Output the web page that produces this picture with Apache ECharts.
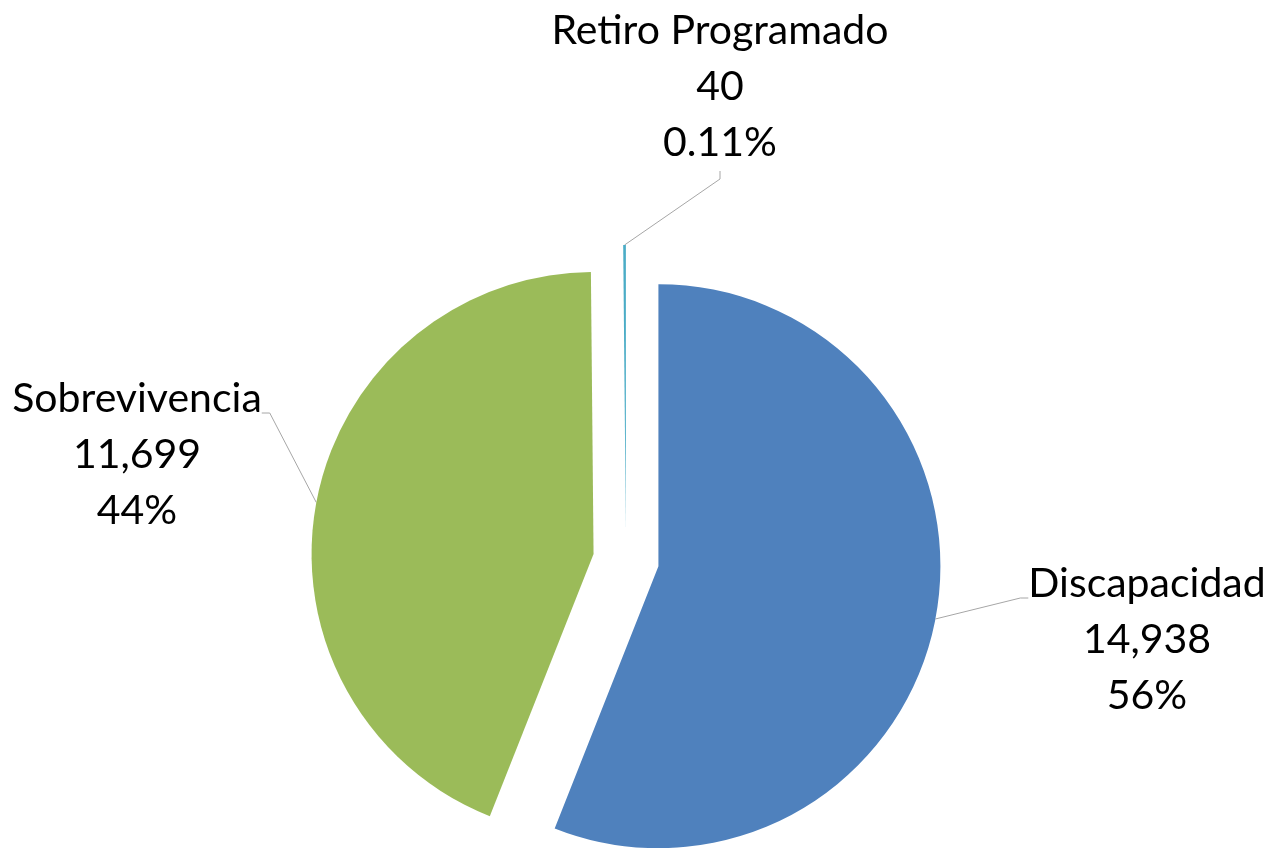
<!DOCTYPE html>
<html>
<head>
<meta charset="utf-8">
<script src="https://cdn.jsdelivr.net/npm/echarts@6/dist/echarts.min.js"></script>
<style>
  html, body { margin: 0; padding: 0; background: #fff; }
  #main { width: 1273px; height: 848px; }
</style>
</head>
<body>
<div id="main"></div>
<script>
// datos
const categories = ['Discapacidad', 'Sobrevivencia', 'Retiro Programado'];
const values = [14938, 11699, 40];
const pctLabels = ['56%', '44%', '0.11%'];
const colors = ['#4F81BD', '#9BBB59', '#4BACC6'];

// donde va cada etiqueta (centro del texto) y cuanto subir el punto de la linea guia
const labelPos = [
  { x: 1147, y: 640 },
  { x: 137, y: 455 },
  { x: 720, y: 87 }
];
const labelLift = [84, 84, 0];

const pieCenter = [626, 560];
const pieRadius = 282;
const explode = 33;

const chart = echarts.init(document.getElementById('main'));

// cada porcion va en su propia serie para poder separarla
// (con selected, el estado "select" pisa la posicion de la etiqueta)
const total = values.reduce(function (a, b) { return a + b; }, 0);
let acc = 0;
const series = values.map(function (v, k) {
  const mid = (acc + v / 2) / total * Math.PI * 2;
  acc += v;
  return {
    type: 'pie',
    silent: true,
    center: [pieCenter[0] + explode * Math.sin(mid), pieCenter[1] - explode * Math.cos(mid)],
    radius: pieRadius,
    startAngle: 90,
    clockwise: true,
    avoidLabelOverlap: false,
    emphasis: { disabled: true },
    label: {
      position: 'outside',
      color: '#000',
      fontFamily: 'Lato',
      fontSize: 41,
      lineHeight: 56,
      align: 'center',
      rich: {
        // linea vacia arriba: sube el punto donde llega la linea guia
        gap: { fontSize: 10, lineHeight: labelLift[k] || 1 }
      },
      formatter: function (p) {
        const i = p.dataIndex;
        const txt = p.name + '\n' + p.value.toLocaleString('en-US') + '\n' + pctLabels[i];
        return labelLift[i] > 0 ? '{gap| }\n' + txt : txt;
      }
    },
    labelLine: {
      length: 10,
      length2: 8,
      lineStyle: { color: '#A6A6A6', width: 1 }
    },
    labelLayout: function (params) {
      const i = params.dataIndex;
      const pos = labelPos[i];
      return { x: pos.x, y: pos.y - labelLift[i] / 2, align: 'center', verticalAlign: 'middle' };
    },
    data: categories.map(function (name, i) {
      const mine = i === k;
      return {
        name: name,
        value: values[i],
        itemStyle: { color: mine ? colors[i] : 'rgba(0,0,0,0)' },
        label: { show: mine },
        labelLine: { show: mine }
      };
    })
  };
});

chart.setOption({ animation: false, series: series });
</script>
</body>
</html>
